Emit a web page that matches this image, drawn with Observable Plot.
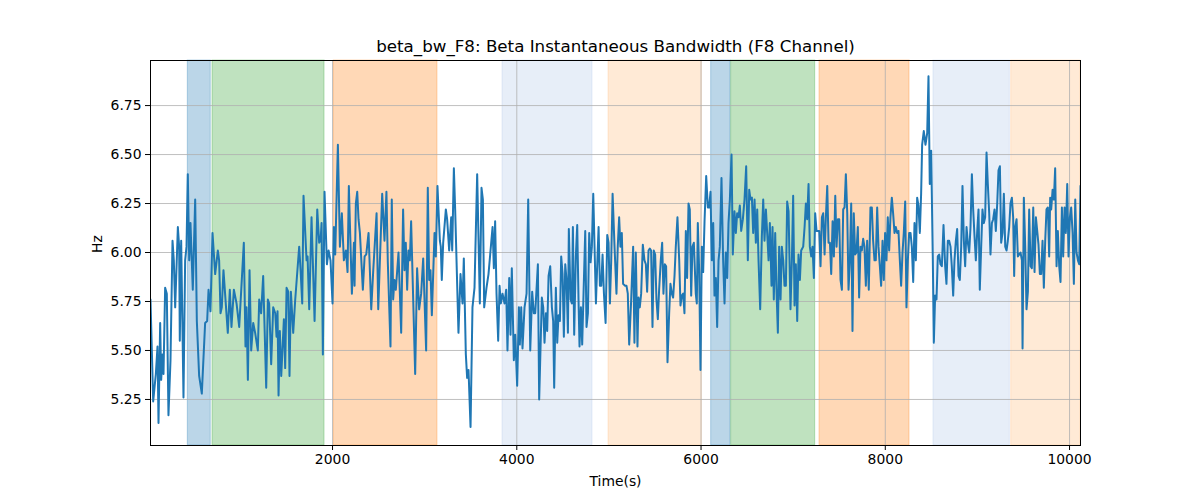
<!DOCTYPE html>
<html>
<head>
<meta charset="utf-8">
<script src="https://cdn.jsdelivr.net/npm/d3@7"></script>
<script src="https://cdn.jsdelivr.net/npm/@observablehq/plot@0.6"></script>
<style>
  html, body { margin: 0; padding: 0; background: white; }
</style>
</head>
<body>
<div id="chart"></div>
<script>
const titleText = "beta_bw_F8: Beta Instantaneous Bandwidth (F8 Channel)";
const xLabel = "Time(s)";
const yLabel = "Hz";
const xTicks = [2000, 4000, 6000, 8000, 10000];
const yTicks = [5.25, 5.5, 5.75, 6.0, 6.25, 6.5, 6.75];

const spanStart = [429, 697, 2014, 3845, 4996, 6110, 6327, 7286, 8523, 9367];
const spanEnd   = [678, 1913, 3139, 4822, 6009, 6320, 7239, 8263, 9352, 10119];
const spanColor = ["#1f77b4", "#2ca02c", "#ff7f0e", "#aec7e8", "#ffbb78",
                   "#1f77b4", "#2ca02c", "#ff7f0e", "#aec7e8", "#ffbb78"];

const time = [
  24,53,82,100,111,129,140,154,165,183,201,219,241,263,277,292,321,335,342,357,382,400,415,429,444,458,483,509,527,552,581,617,639,654,675,697,726,755,769,784,798,816,
  863,885,903,929,958,987,1037,1055,1066,1081,1099,1117,1139,1160,1189,1204,1225,1247,1280,1298,1312,1334,1356,1378,1392,1403,1414,1428,1443,1472,1486,1501,1519,1533,1548,1573,1595,1638,1653,1671,1685,
  1718,1729,1747,1772,1805,1834,1855,1870,1881,1895,1913,1939,1957,1978,2000,2015,2029,2058,2080,2101,2123,2145,2163,2177,2210,2232,2239,2253,2268,2282,2297,2329,2348,2366,2391,2420,2442,2478,2496,2539,
  2564,2585,2600,2629,2643,2658,2672,2687,2716,2745,2766,2781,2795,2810,2824,2839,2853,2897,2918,2940,2962,2984,3016,3034,3049,3063,3078,3107,3121,3139,3165,3175,3186,3201,3230,3244,3266,3288,3299,3317,3331,3367,
  3389,3411,3425,3447,3461,3476,3498,3519,3541,3570,3599,3617,3632,3646,3671,3693,3737,3751,3765,3780,3798,3813,3827,3845,3867,3885,3899,3918,3932,3946,3968,3983,4004,4023,4033,4048,4062,4084,4106,4124,4146,4167,4185,4200,4229,4243,
  4272,4287,4301,4316,4330,4345,4363,4381,4395,4406,4424,4439,4453,4468,4482,4497,4511,4526,4540,4555,4565,4584,4598,4609,4623,4641,4656,4670,4681,4696,4710,4725,4743,4757,4772,4786,4801,4815,4830,4844,4859,4877,4888,4902,4917,4931,4946,4964,4982,4996,5011,5025,5040,5061,
  5082,5096,5111,5125,5140,5154,5176,5191,5205,5220,5241,5263,5277,5292,5310,5321,5335,5350,5368,5386,5401,5415,5430,5444,5458,5473,5487,5502,5516,5531,5545,5563,5578,5592,5607,5621,5636,5654,5668,5683,5697,5712,5726,5744,5763,5777,5792,5806,5820,5835,5849,5864,5878,5893,5907,5922,
  5943,5954,5965,5980,5994,6009,6023,6038,6056,6074,6088,6103,6117,6132,6146,6161,6175,6190,6204,6222,6240,6255,6269,6284,6298,6313,6331,6345,6363,6378,6392,6407,6421,6436,6454,6472,6490,6508,6523,6537,6552,6566,6581,6595,6610,6624,6642,6660,6675,6689,6704,6718,6733,6747,6765,
  6776,6790,6805,6819,6834,6848,6863,6877,6892,6906,6921,6935,6950,6971,6986,7000,7015,7029,7044,7058,7073,7087,7109,7124,7138,7152,7167,7181,7196,7210,7225,7239,7254,7268,7283,7297,7312,7326,7341,7355,7370,7384,7399,7413,7428,7442,7457,7471,7486,7500,7514,7529,7543,7558,7572,7587,7601,7616,7630,
  7644,7658,7673,7687,7702,7716,7731,7745,7760,7774,7789,7803,7821,7839,7854,7868,7883,7897,7912,7926,7941,7955,7970,7984,7998,8013,8027,8042,8056,8071,8085,8100,8114,8129,8143,8158,8172,8187,8201,8216,8230,8245,8259,8274,8288,8303,8317,8332,8346,8360,8375,8389,8400,8418,8436,8455,
  8469,8483,8498,8505,8516,8527,8541,8556,8570,8585,8599,8614,8632,8650,8664,8679,8693,8708,8722,8737,8751,8766,8780,8795,8809,8824,8838,8853,8867,8882,8896,8911,8925,8940,8954,8969,8983,8998,9012,9026,9041,9055,9070,9084,9099,9113,9128,9142,9157,9171,9186,9200,9215,9229,9244,9258,9273,9287,9302,9316,
  9330,9345,9359,9374,9388,9399,9410,9425,9439,9454,9468,9483,9490,9504,9519,9533,9548,9562,9577,9591,9606,9620,9635,9649,9663,9678,9692,9707,9721,9736,9750,9765,9779,9790,9801,9816,9830,9844,9859,9873,9888,9902,9917,9931,9946,9960,9975,9989,10004,10018,10033,10047,10062,10076,10091,10105,10119
];

const hz = [
  5.76,5.24,5.38,5.52,5.13,5.64,5.35,5.48,5.38,5.82,5.79,5.17,5.45,6.06,5.96,5.72,6.13,6.03,5.55,6.06,5.26,5.96,6.03,6.40,5.96,6.15,5.81,6.27,5.65,5.37,5.28,5.64,5.65,5.81,5.70,6.10,5.89,6.01,5.96,5.69,5.72,5.91,
  5.59,5.81,5.62,5.81,5.74,5.62,6.05,5.52,5.72,5.35,5.91,5.50,5.64,5.59,5.50,5.76,5.69,5.88,5.31,5.76,5.74,5.43,5.72,5.69,5.57,5.70,5.27,5.60,5.37,5.66,5.41,5.82,5.80,5.37,5.80,5.59,5.76,6.03,5.91,5.74,6.29,
  5.96,5.98,5.71,6.18,5.65,6.22,6.05,6.06,6.15,5.48,6.31,5.94,6.01,5.96,5.74,6.13,5.99,6.55,6.03,6.20,5.96,6.01,5.90,6.34,5.79,6.05,5.83,6.25,6.31,6.17,6.10,5.81,5.98,5.99,6.10,5.71,5.91,6.20,5.71,6.30,
  6.06,6.31,5.95,5.52,6.27,5.76,5.86,5.81,6.00,5.59,6.22,5.91,6.05,5.81,6.01,5.96,6.16,5.38,5.92,5.71,5.79,5.97,5.50,6.33,5.86,5.91,5.68,6.10,5.98,6.34,6.06,6.03,5.86,6.05,6.22,6.17,6.01,6.18,6.01,6.43,6.22,5.59,
  5.89,5.74,5.97,5.48,5.36,5.40,5.11,5.72,5.82,6.40,5.74,6.33,6.27,5.72,5.82,5.89,6.13,5.92,6.16,5.79,5.55,5.83,5.74,5.79,5.74,5.81,5.50,5.87,5.58,5.92,5.45,5.58,5.32,5.72,5.53,5.72,5.51,5.72,5.79,6.27,5.50,5.80,5.69,5.69,5.94,5.25,
  5.77,5.72,5.54,5.69,5.60,5.88,5.93,5.72,5.65,5.31,5.82,5.54,5.68,5.65,5.98,5.89,5.57,5.94,5.86,5.59,6.12,5.76,5.74,6.13,5.58,5.98,6.14,5.76,5.52,5.72,5.53,5.80,6.11,5.62,5.69,6.10,5.95,6.03,6.30,6.03,5.74,5.99,6.13,5.83,5.83,5.99,5.79,5.64,6.09,6.05,5.74,5.96,6.30,6.03,
  5.79,6.03,6.18,6.03,6.10,5.84,5.83,5.83,5.79,5.53,5.75,6.03,5.54,6.00,5.52,5.77,5.72,5.79,6.04,5.96,5.94,5.80,6.01,6.02,6.01,5.62,6.01,5.99,5.76,5.66,5.81,5.96,6.05,5.79,5.94,5.93,5.44,5.69,5.84,5.79,5.77,5.88,6.03,6.18,5.96,5.73,5.78,5.79,5.69,6.11,5.87,6.25,6.22,5.78,6.03,6.05,
  5.79,5.74,6.15,5.90,5.40,6.03,5.90,6.16,6.39,6.23,6.23,6.31,5.96,6.15,5.78,5.87,5.62,5.96,6.03,6.38,5.96,5.74,6.00,5.87,6.15,6.27,6.50,5.99,6.21,6.10,6.20,6.18,6.24,6.11,6.17,6.27,6.44,5.96,6.32,6.27,6.28,6.10,6.27,6.05,6.22,5.96,5.71,6.08,6.27,6.06,6.22,6.10,5.96,6.15,5.83,
  6.13,5.76,6.10,5.81,5.59,6.03,5.76,6.03,5.96,5.83,5.83,6.26,6.21,5.71,5.96,6.29,5.73,5.94,5.65,5.99,5.86,6.01,6.03,6.13,6.25,6.17,6.35,6.03,5.98,6.03,5.87,6.20,6.11,6.11,6.11,5.93,6.18,6.20,5.99,6.18,6.34,6.05,6.05,5.89,6.16,5.98,6.29,6.03,6.17,6.17,5.86,5.81,6.22,6.23,6.40,6.20,5.81,5.96,6.25,
  5.60,6.20,5.99,6.00,6.13,5.77,6.03,6.01,6.07,6.03,5.83,6.06,5.81,6.23,6.23,6.06,5.96,5.96,6.23,6.03,5.93,5.83,6.06,5.86,6.10,5.96,6.18,6.01,6.18,6.28,6.20,6.10,6.13,6.10,6.11,5.96,5.83,6.00,6.10,6.26,5.72,5.96,6.10,6.10,6.03,5.85,6.15,5.96,6.28,6.24,6.10,6.30,6.55,6.62,6.55,6.61,
  6.90,6.35,6.52,6.30,5.96,5.54,5.78,5.76,5.98,5.99,5.94,5.93,6.14,5.93,5.84,6.06,6.06,6.03,5.93,5.78,5.96,6.06,6.12,5.88,5.86,6.03,6.34,6.06,5.93,6.13,6.05,6.00,6.13,6.40,6.22,6.08,5.96,6.11,6.22,5.81,6.03,6.22,6.15,6.18,6.51,6.35,6.20,5.99,6.15,6.17,6.22,6.11,6.25,6.42,6.44,6.05,6.10,6.30,6.03,6.01,
  6.06,6.13,6.25,6.28,6.18,5.88,6.13,6.17,5.98,5.99,6.00,5.96,5.51,6.28,6.03,5.71,5.80,6.22,5.93,5.92,6.23,5.90,6.18,6.11,6.04,5.89,5.89,6.06,5.82,6.06,6.22,6.23,5.98,6.28,6.22,6.32,6.27,6.43,5.93,6.11,5.93,5.85,6.23,5.98,6.23,6.10,6.35,5.98,6.18,6.23,6.10,5.84,6.27,6.00,5.96,5.94,6.34
];

const series = time.map((t, i) => ({t, v: hz[i]}));
const spans = spanStart.map((s, i) => ({start: s, end: spanEnd[i], color: spanColor[i]}));

const font = "DejaVu Sans";
const chart = Plot.plot({
  width: 1200,
  height: 500,
  marginTop: 60,
  marginBottom: 55,
  marginLeft: 150,
  marginRight: 120,
  style: {fontFamily: font, fontSize: "13.9px", background: "white", color: "black"},
  x: {domain: [24, 10119]},
  y: {domain: [5.015, 6.98]},
  marks: [
    Plot.rect(spans, {x1: "start", x2: "end", fill: "color", fillOpacity: 0.3, stroke: "color", strokeOpacity: 0.3, strokeWidth: 1}),
    Plot.ruleX(xTicks, {stroke: "#b0b0b0", strokeWidth: 0.8}),
    Plot.ruleY(yTicks, {stroke: "#b0b0b0", strokeWidth: 0.8}),
    Plot.line(series, {x: "t", y: "v", stroke: "#1f77b4", strokeWidth: 2, clip: true}),
    Plot.frame({stroke: "black", strokeWidth: 1}),
    Plot.axisX(xTicks, {tickSize: 5, tickPadding: 4, label: null, fontSize: 13.9, tickFormat: d => String(d)}),
    Plot.axisY(yTicks, {tickSize: 5, tickPadding: 4, label: null, fontSize: 13.9, tickFormat: d => d.toFixed(2)}),
    Plot.text([xLabel], {frameAnchor: "bottom", dy: 36, fontSize: 13.9, lineAnchor: "middle"}),
    Plot.text([yLabel], {frameAnchor: "left", dx: -53, rotate: -90, fontSize: 13.9, lineAnchor: "middle"}),
    Plot.text([titleText], {frameAnchor: "top", dy: -14, fontSize: 16.7, lineAnchor: "middle"})
  ]
});
document.getElementById("chart").appendChild(chart);
</script>
</body>
</html>
